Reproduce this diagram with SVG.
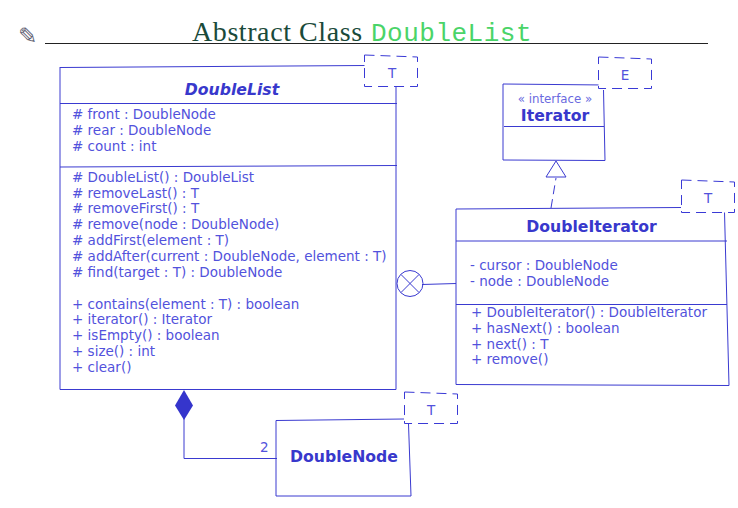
<svg xmlns="http://www.w3.org/2000/svg" width="738" height="508" viewBox="0 0 738 508">
<style>
.ln{fill:none;stroke:#3a3ad0;stroke-width:1}
.dash{fill:#fff;stroke:#3a3ad6;stroke-width:1;stroke-dasharray:10 6}
text{font-family:"DejaVu Sans",sans-serif;font-size:13.500px;fill:#5252dc}
.b{font-weight:bold;font-size:15.700px;fill:#3838cc;text-anchor:middle}
.c{text-anchor:middle}
</style>
<rect width="738" height="508" fill="#fff"/>
<g id="title">
<text x="18" y="44" style="font-size:23px;fill:#667;font-family:'DejaVu Sans',sans-serif">✎</text>
<line x1="45" y1="43.500" x2="708" y2="43.500" stroke="#222" stroke-width="1"/>
<text x="192" y="41" style="font-family:'Liberation Serif',serif;font-size:28px;letter-spacing:.58px;fill:#1a4a3a">Abstract Class</text>
<text x="371" y="41" style="font-family:'Liberation Mono',monospace;font-size:26px;letter-spacing:.5px;fill:#4ad468">DoubleList</text>
</g>
<g id="connectors">
<path class="ln" d="M422 284.500L456 283.500"/>
<path class="ln" d="M551 208L556 178" stroke-dasharray="9 5"/>
<path class="ln" d="M184 418V458.500H277"/>
<text x="260" y="452">2</text>
</g>
<g id="DoubleList">
<path class="ln" d="M60 67.500L365 65.500M396 87V389.500H60V67"/>
<path class="ln" d="M60 103.500H397M60 167L397 165.500"/>
<text class="b" x="232" y="95" style="font-style:italic">DoubleList</text>
<text x="72" y="119">
<tspan x="72" y="119">#  front : DoubleNode</tspan>
<tspan x="72" y="135">#  rear : DoubleNode</tspan>
<tspan x="72" y="151">#  count : int</tspan>
<tspan x="72" y="182">#  DoubleList() : DoubleList</tspan>
<tspan x="72" y="198">#  removeLast() : T</tspan>
<tspan x="72" y="213">#  removeFirst() : T</tspan>
<tspan x="72" y="229">#  remove(node : DoubleNode)</tspan>
<tspan x="72" y="245">#  addFirst(element : T)</tspan>
<tspan x="72" y="261">#  addAfter(current : DoubleNode, element : T)</tspan>
<tspan x="72" y="277">#  find(target : T) : DoubleNode</tspan>
<tspan x="72" y="309">+  contains(element : T) : boolean</tspan>
<tspan x="72" y="324">+  iterator() : Iterator</tspan>
<tspan x="72" y="340">+  isEmpty() : boolean</tspan>
<tspan x="72" y="356">+  size() : int</tspan>
<tspan x="72" y="372">+  clear()</tspan>
</text>
</g>
<g id="DoubleListParam">
<path class="dash" d="M364.500 55L417.500 57V86.500H364.500Z"/>
<text class="c" x="392" y="78">T</text>
</g>
<g id="Iterator">
<path class="ln" d="M503 84L605 85M603.500 90L605 160.500L503 160V84M504 126.500H604"/>
<text class="c" x="555" y="103" style="font-size:11.800px;fill:#6a6ae0">« interface »</text>
<text class="b" x="555" y="121">Iterator</text>
</g>
<g id="IteratorParam">
<path class="dash" d="M598.500 57L651.500 59V88.500H598.500Z"/>
<text class="c" x="625" y="80">E</text>
</g>
<g id="Realization">
<path d="M546 177L556 161L566 177Z" fill="#fff" stroke="#3a3ad0"/>
</g>
<g id="DoubleIterator">
<path class="ln" d="M456 209L681 207.500M724.500 212L729 385.500L456 384.500V209"/>
<path class="ln" d="M456 241H727M456 304.500H727"/>
<text class="b" x="591.500" y="232">DoubleIterator</text>
<text x="470" y="270">
<tspan x="470" y="270">-  cursor : DoubleNode</tspan>
<tspan x="470" y="286">-  node : DoubleNode</tspan>
<tspan x="471" y="317">+  DoubleIterator() : DoubleIterator</tspan>
<tspan x="471" y="333">+  hasNext() : boolean</tspan>
<tspan x="471" y="349">+  next() : T</tspan>
<tspan x="471" y="364">+  remove()</tspan>
</text>
</g>
<g id="DoubleIteratorParam">
<path class="dash" d="M681.500 180L734.500 182V212.500H681.500Z"/>
<text class="c" x="708" y="203">T</text>
</g>
<g id="Nesting">
<circle class="ln" cx="410" cy="283.500" r="13" fill="#fff"/>
<path class="ln" d="M401 274.500L419 292.500M419 274.500L401 292.500"/>
</g>
<g id="Composition">
<path d="M184 390L193 405.500L184 420L175 405.500Z" fill="#3535cc"/>
</g>
<g id="DoubleNode">
<path class="ln" d="M276 420.500L404 419M408.500 424L411 496H276V420.500"/>
<text class="b" x="344" y="462">DoubleNode</text>
</g>
<g id="DoubleNodeParam">
<path class="dash" d="M404.500 392L457.500 394V423.500H404.500Z"/>
<text class="c" x="431" y="415">T</text>
</g>
</svg>
